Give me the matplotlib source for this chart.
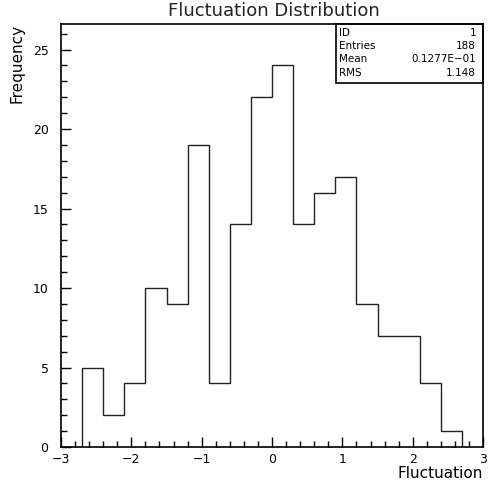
import matplotlib
matplotlib.use('Agg')
import matplotlib.pyplot as plt
from matplotlib.patches import Rectangle
from matplotlib.ticker import MultipleLocator

# histogram contents (18 bins of width 0.3 from -2.7 to 2.7)
bin_edges = [-2.7, -2.4, -2.1, -1.8, -1.5, -1.2, -0.9, -0.6, -0.3, 0.0,
             0.3, 0.6, 0.9, 1.2, 1.5, 1.8, 2.1, 2.4, 2.7]
counts = [5, 2, 4, 10, 9, 19, 4, 14, 22, 24, 14, 16, 17, 9, 7, 7, 4, 1]

stat_names = ['ID', 'Entries', 'Mean', 'RMS']
stat_values = ['1', '188', '0.1277E\u221201', '1.148']

plt.rcParams['font.family'] = ['DejaVu Sans']

fig = plt.figure(figsize=(4.88, 4.83), dpi=100)
ax = fig.add_axes([0.125, 0.0745, 0.865, 0.8755])

ax.stairs(counts, bin_edges, baseline=0, fill=False, color='#222222', linewidth=1.0)

ax.set_xlim(-3, 3)
ax.set_ylim(0, 26.6)

ax.xaxis.set_major_locator(MultipleLocator(1))
ax.xaxis.set_minor_locator(MultipleLocator(0.2))
ax.yaxis.set_major_locator(MultipleLocator(5))
ax.yaxis.set_minor_locator(MultipleLocator(1))
ax.tick_params(which='both', direction='in', top=False, right=False, labelsize=9)
ax.tick_params(which='major', length=7, width=1.0)
ax.tick_params(which='minor', length=4, width=1.0)
ax.tick_params(axis='x', pad=4)
ax.tick_params(axis='y', pad=9)

for sp in ax.spines.values():
    sp.set_linewidth(1.2)

fig.text(0.562, 0.978, 'Fluctuation Distribution', ha='center', va='center', fontsize=13, color='#222222')
ax.set_xlabel('Fluctuation', fontsize=11)
ax.xaxis.set_label_coords(1.0, -0.062)
ax.xaxis.label.set_horizontalalignment('right')
ax.xaxis.label.set_verticalalignment('center')
ax.set_ylabel('Frequency', fontsize=11)
ax.yaxis.set_label_coords(-0.105, 1.0)
ax.yaxis.label.set_verticalalignment('center')
ax.yaxis.label.set_horizontalalignment('right')

# statistics box
ax.add_patch(Rectangle((0.651, 0.860), 0.349, 0.140, transform=ax.transAxes,
                       fill=False, edgecolor='black', linewidth=1.2, clip_on=False))
row_y = [0.979, 0.949, 0.917, 0.885]
for name, val, y in zip(stat_names, stat_values, row_y):
    ax.text(0.659, y, name, transform=ax.transAxes, ha='left', va='center', fontsize=7.5)
    ax.text(0.983, y, val, transform=ax.transAxes, ha='right', va='center', fontsize=7.5)

fig.savefig('out.png', dpi=100)
